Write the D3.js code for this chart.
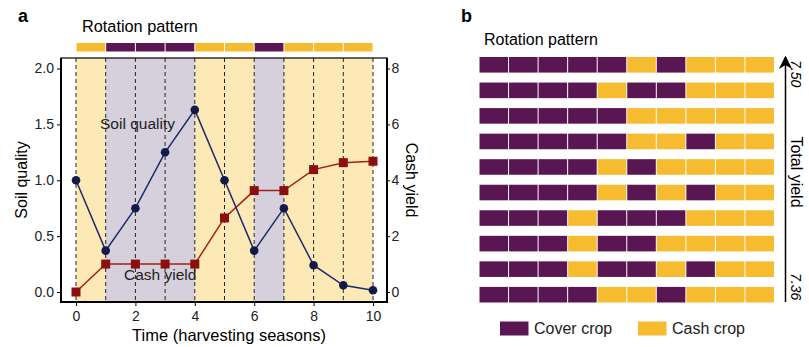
<!DOCTYPE html>
<html><head><meta charset="utf-8">
<script src="https://cdn.jsdelivr.net/npm/d3@7"></script>
<style>body{margin:0;background:#fff}svg{font-family:"Liberation Sans",Arial,sans-serif}</style>
</head><body><svg id="c" width="809" height="347"></svg>
<script>
// ---- data ----
const seasons = [0,1,2,3,4,5,6,7,8,9,10];
const soilQuality = [1.0,0.37,0.75,1.25,1.63,1.0,0.37,0.75,0.24,0.06,0.015];
const cashYield = [0,1.0,1.0,1.0,1.0,2.65,3.63,3.63,4.38,4.63,4.68];
const rotationA = ["Y","C","C","C","Y","Y","C","Y","Y","Y"]; // C = cover crop, Y = cash crop
const leftTicks = [0,0.5,1.0,1.5,2.0];
const rightTicks = [0,2,4,6,8];
const xTicks = [0,2,4,6,8,10];
const rotationsB = [
  "CCCCCYCYYY",
  "CCCCYCCYYY",
  "CCCCCYYYYY",
  "CCCCCYYCYY",
  "CCCCYCYYYY",
  "CCCCYCYCYY",
  "CCCYCCCYYY",
  "CCCYCCYYYY",
  "CCCYCCYCYY",
  "CCCCYYCYYY"
];
const yieldTop = "7.50", yieldBottom = "7.36";
const legendItems = [{k:"C",label:"Cover crop"},{k:"Y",label:"Cash crop"}];

const PURPLE="#5a1652", YELLOW="#f6bb2f";
const LPURPLE="#d5d0dc", LYELLOW="#fde9b5";
const col = k => k==="C"?PURPLE:YELLOW;
const lcol = k => k==="C"?LPURPLE:LYELLOW;

const svg = d3.select("#c");

// ---- panel a ----
const L=61,R=387,T=58,B=302;
const x = d3.scaleLinear().domain([0,10]).range([76,373]);
const y = d3.scaleLinear().domain([0,2]).range([292,68.5]);
const y2 = d3.scaleLinear().domain([0,8]).range([292,68.5]);

svg.append("text").attr("x",18).attr("y",22).attr("font-weight","bold").attr("font-size",18).text("a");
svg.append("text").attr("x",82).attr("y",32).attr("font-size",16.3).text("Rotation pattern");

// top rotation bar
svg.append("g").selectAll("rect").data(rotationA).join("rect")
  .attr("x",(d,i)=>x(i)+0.5).attr("width",(d,i)=>x(i+1)-x(i)-1)
  .attr("y",43).attr("height",8.5).attr("fill",d=>col(d));

// shading
svg.append("g").selectAll("rect").data(rotationA).join("rect")
  .attr("x",(d,i)=>x(i)).attr("width",(d,i)=>x(i+1)-x(i))
  .attr("y",T).attr("height",B-T).attr("fill",d=>lcol(d));

// dashed verticals
svg.append("g").selectAll("line").data(seasons).join("line")
  .attr("x1",d=>x(d)).attr("x2",d=>x(d)).attr("y1",T).attr("y2",B)
  .attr("stroke","#222").attr("stroke-width",1).attr("stroke-dasharray","4,3");

// frame
svg.append("rect").attr("x",L).attr("y",T).attr("width",R-L).attr("height",B-T)
  .attr("fill","none").attr("stroke","#000").attr("stroke-width",1.2);
svg.append("line").attr("x1",L).attr("x2",L).attr("y1",T).attr("y2",B+1).attr("stroke","#000").attr("stroke-width",2);
svg.append("line").attr("x1",L-1).attr("x2",R+1).attr("y1",B).attr("y2",B).attr("stroke","#000").attr("stroke-width",2);
svg.append("line").attr("x1",R).attr("x2",R).attr("y1",T).attr("y2",B+1).attr("stroke","#000").attr("stroke-width",2);

// axes
const axL = svg.append("g").attr("transform",`translate(${L},0)`)
  .call(d3.axisLeft(y).tickValues(leftTicks).tickFormat(d3.format(".1f")).tickSize(4).tickSizeOuter(0));
const axR = svg.append("g").attr("transform",`translate(${R},0)`)
  .call(d3.axisRight(y2).tickValues(rightTicks).tickFormat(d3.format("d")).tickSize(3).tickSizeOuter(0));
const axB = svg.append("g").attr("transform",`translate(0,${B})`)
  .call(d3.axisBottom(x).tickValues(xTicks).tickFormat(d3.format("d")).tickSize(4).tickSizeOuter(0));
[axL,axR,axB].forEach(a=>{
  a.select(".domain").remove();
  a.selectAll("text").attr("font-size",14).attr("fill","#222").style("font-family","Liberation Sans, Arial, sans-serif");
  a.selectAll("line").attr("stroke","#000");
});
axL.selectAll("text").attr("x",-7);
axR.selectAll("text").attr("x",4.5);
axB.selectAll("text").attr("y",9);

// axis titles
svg.append("text").attr("transform","translate(27,180) rotate(-90)").attr("text-anchor","middle").attr("font-size",16).text("Soil quality");
svg.append("text").attr("transform","translate(406,180) rotate(90)").attr("text-anchor","middle").attr("font-size",16).text("Cash yield");
svg.append("text").attr("x",229).attr("y",341).attr("text-anchor","middle").attr("font-size",16.5).text("Time (harvesting seasons)");

// lines
const lineSoil = d3.line().x((d,i)=>x(seasons[i])).y(d=>y(d));
const lineCash = d3.line().x((d,i)=>x(seasons[i])).y(d=>y2(d));
svg.append("path").attr("d",lineCash(cashYield)).attr("fill","none").attr("stroke","#a32116").attr("stroke-width",1.5);
svg.append("path").attr("d",lineSoil(soilQuality)).attr("fill","none").attr("stroke","#1d2a6b").attr("stroke-width",1.5);
svg.append("g").selectAll("rect").data(cashYield).join("rect")
  .attr("x",(d,i)=>x(seasons[i])-4.5).attr("y",d=>y2(d)-4.5).attr("width",9).attr("height",9).attr("fill","#8c0f0f");
svg.append("g").selectAll("circle").data(soilQuality).join("circle")
  .attr("cx",(d,i)=>x(seasons[i])).attr("cy",d=>y(d)).attr("r",4.3).attr("fill","#131a4a");

svg.append("text").attr("x",100).attr("y",129).attr("font-size",15.5).attr("fill","#222").text("Soil quality");
svg.append("text").attr("x",124).attr("y",280).attr("font-size",15.5).attr("fill","#222").text("Cash yield");

// ---- panel b ----
svg.append("text").attr("x",461).attr("y",22).attr("font-weight","bold").attr("font-size",18).text("b");
svg.append("text").attr("x",484).attr("y",45).attr("font-size",16).text("Rotation pattern");

const bx = d3.scaleLinear().domain([0,10]).range([479,774.5]);
const by = d3.scaleBand().domain(d3.range(rotationsB.length)).range([57,302.5]).paddingInner(0.39).paddingOuter(0);
const rows = svg.append("g").selectAll("g").data(rotationsB).join("g")
  .attr("transform",(d,i)=>`translate(0,${by(i)})`);
rows.selectAll("rect").data(d=>d.split("")).join("rect")
  .attr("x",(d,i)=>bx(i)+0.5).attr("width",(d,i)=>bx(i+1)-bx(i)-1)
  .attr("y",0).attr("height",by.bandwidth()).attr("fill",d=>col(d));

// arrow
svg.append("defs").append("marker").attr("id","ah").attr("viewBox","0 0 10 10")
  .attr("refX",9).attr("refY",5).attr("markerWidth",9).attr("markerHeight",9).attr("orient","auto")
  .append("path").attr("d","M0,0 L10,5 L0,10 L3,5 Z").attr("fill","#000");
svg.append("line").attr("x1",785.5).attr("x2",785.5).attr("y1",302).attr("y2",57)
  .attr("stroke","#000").attr("stroke-width",1.5).attr("marker-end","url(#ah)");
svg.append("text").attr("transform","translate(791,60) rotate(90)").attr("font-size",14).attr("font-style","italic").text(yieldTop);
svg.append("text").attr("transform","translate(791,172) rotate(90)").attr("text-anchor","middle").attr("font-size",16).text("Total yield");
svg.append("text").attr("transform","translate(791,273) rotate(90)").attr("font-size",14).attr("font-style","italic").text(yieldBottom);

// legend
const lg = svg.append("g").selectAll("g").data(legendItems).join("g")
  .attr("transform",(d,i)=>`translate(${i===0?500:638},321.5)`);
lg.append("rect").attr("width",28.5).attr("height",14).attr("fill",d=>col(d.k));
lg.append("text").attr("x",34).attr("y",12.5).attr("font-size",16).attr("fill","#222").text(d=>d.label);
</script></body></html>
